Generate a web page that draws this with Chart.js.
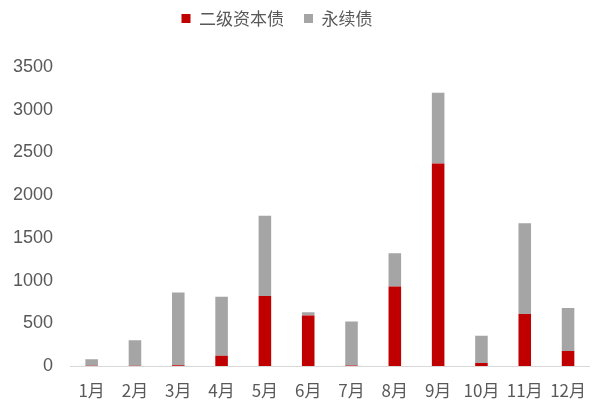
<!DOCTYPE html>
<html>
<head>
<meta charset="utf-8">
<script src="https://cdn.jsdelivr.net/npm/chart.js@4"></script>
<style>
  html, body { margin: 0; padding: 0; background: #fff; }
  #wrap { width: 592px; height: 401px; }
</style>
</head>
<body>
<div id="wrap"><canvas id="bondChart" width="592" height="401"></canvas></div>
<script>
const months = ["1月", "2月", "3月", "4月", "5月", "6月", "7月", "8月", "9月", "10月", "11月", "12月"];
const tier2 = [3, 2, 10, 120, 820, 590, 5, 930, 2370, 35, 610, 175];
const perpetual = [77, 298, 850, 690, 940, 40, 515, 390, 830, 320, 1060, 505];
const yTicks = [0, 500, 1000, 1500, 2000, 2500, 3000, 3500];

const cjk = "'Noto Sans CJK SC', 'Noto Sans', sans-serif";
const latin = "'Liberation Sans', Arial, sans-serif";

// legend box: fixed height, drawn a bit higher and left like the original
const legendTweak = {
  id: "legendTweak",
  afterInit(chart) {
    const lg = chart.legend;
    const origFit = lg.fit.bind(lg);
    lg.fit = function () {
      origFit();
      this.height = 67;
    };
  },
  afterLayout(chart) {
    chart.legend.left -= 38;
    chart.legend.top -= 10;
  },
};

var ctx = document.getElementById("bondChart").getContext("2d");
var bondChart = new Chart(ctx, {
  type: "bar",
  data: {
    labels: months,
    datasets: [
      {
        label: "二级资本债",
        data: tier2,
        backgroundColor: "#c00000",
        barPercentage: 0.29,
        categoryPercentage: 1,
      },
      {
        label: "永续债",
        data: perpetual,
        backgroundColor: "#a5a5a5",
        barPercentage: 0.29,
        categoryPercentage: 1,
      },
    ],
  },
  plugins: [legendTweak],
  options: {
    responsive: false,
    animation: false,
    layout: { padding: { top: 0, right: 0, left: 0, bottom: 0 } },
    scales: {
      x: {
        stacked: true,
        grid: { display: false },
        border: { display: true, color: "#d9d9d9", width: 1 },
        afterFit: (axis) => {
          axis.height = 35;
        },
        ticks: {
          color: "#595959",
          padding: 6,
          maxRotation: 0,
          autoSkip: false,
          font: { family: cjk, size: 17 },
        },
      },
      y: {
        stacked: true,
        min: 0,
        max: 3500,
        afterBuildTicks: (axis) => {
          axis.ticks = yTicks.map((v) => ({ value: v }));
        },
        afterFit: (axis) => {
          axis.width = 70;
        },
        grid: { display: false, drawTicks: false },
        border: { display: false },
        ticks: {
          color: "#595959",
          padding: 17,
          callback: (v) => String(v),
          font: { family: latin, size: 18 },
        },
      },
    },
    plugins: {
      legend: {
        display: true,
        position: "top",
        labels: {
          color: "#595959",
          boxWidth: 9,
          boxHeight: 9,
          padding: 20,
          font: { family: cjk, size: 17 },
        },
      },
      tooltip: { enabled: false },
    },
  },
});
</script>
</body>
</html>
